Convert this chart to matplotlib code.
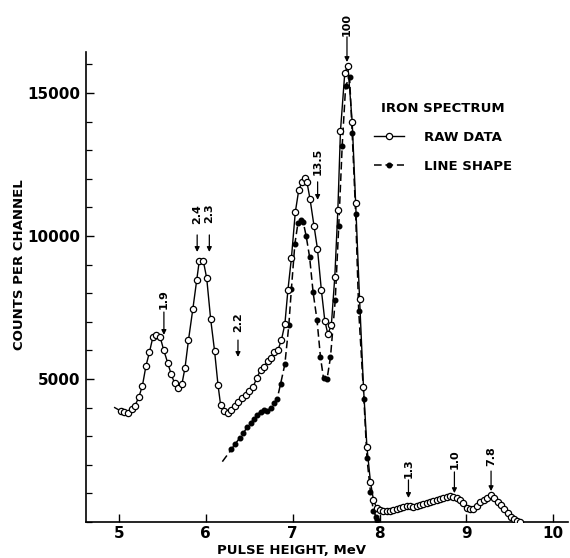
import matplotlib
matplotlib.use("Agg")
import matplotlib.pyplot as plt
from matplotlib.ticker import MultipleLocator

# ---------------- data ----------------
raw_x = [4.95, 5.02, 5.06, 5.105, 5.145, 5.185, 5.23, 5.27, 5.31, 5.35, 5.39, 5.43, 5.475,
         5.515, 5.56, 5.60, 5.64, 5.685, 5.725, 5.76, 5.80, 5.85, 5.895, 5.925, 5.97, 6.01,
         6.055, 6.10, 6.14, 6.17, 6.21, 6.25, 6.29, 6.33, 6.375, 6.415, 6.46, 6.50, 6.545,
         6.585, 6.63, 6.67, 6.71, 6.755, 6.79, 6.83, 6.87, 6.91, 6.945, 6.985, 7.03, 7.07,
         7.11, 7.14, 7.165, 7.20, 7.245, 7.285, 7.33, 7.37, 7.405, 7.445, 7.485, 7.52, 7.55,
         7.60, 7.635, 7.685, 7.725, 7.77, 7.815, 7.855, 7.895, 7.93, 7.965, 8.0, 8.045, 8.085,
         8.12, 8.16, 8.20, 8.24, 8.275, 8.315, 8.355, 8.39, 8.43, 8.47, 8.505, 8.545, 8.585,
         8.62, 8.66, 8.70, 8.735, 8.775, 8.81, 8.85, 8.89, 8.93, 8.965, 9.005, 9.04, 9.08,
         9.12, 9.16, 9.20, 9.24, 9.28, 9.32, 9.36, 9.40, 9.435, 9.475, 9.51, 9.55, 9.58, 9.615]
raw_y = [4000, 3880, 3830, 3800, 3940, 4070, 4380, 4770, 5450, 5930, 6460, 6520, 6450,
         6010, 5570, 5175, 4850, 4680, 4830, 5390, 6360, 7440, 8460, 9140, 9140, 8520,
         7100, 5990, 4790, 4090, 3890, 3800, 3920, 4060, 4200, 4320, 4440, 4590, 4730,
         5020, 5315, 5430, 5630, 5750, 5950, 6010, 6360, 6920, 8110, 9220, 10830, 11610,
         11900, 12020, 11870, 11280, 10360, 9550, 8110, 7030, 6570, 6880, 8580, 10910, 13670,
         15710, 15940, 13990, 11140, 7800, 4710, 2610, 1410, 770, 500, 420, 400, 385,
         396, 420, 443, 478, 536, 560, 560, 536, 560, 594, 618, 653, 711,
         746, 769, 793, 828, 863, 909, 886, 828, 769, 650, 480, 450, 470,
         570, 690, 780, 850, 944, 830, 711, 594, 443, 303, 186, 93, 35, 12]

line_x = [6.19, 6.295, 6.34, 6.39, 6.43, 6.475, 6.515, 6.55, 6.59, 6.63, 6.665, 6.705, 6.745,
          6.78, 6.82, 6.86, 6.91, 6.955, 6.985, 7.025, 7.06, 7.10, 7.12, 7.155, 7.195, 7.235,
          7.28, 7.32, 7.355, 7.395, 7.435, 7.49, 7.53, 7.57, 7.61, 7.655, 7.685, 7.725, 7.76,
          7.82, 7.855, 7.895, 7.93, 7.96, 7.975]
line_y = [2110, 2540, 2740, 2930, 3100, 3310, 3450, 3590, 3740, 3860, 3920, 3890, 3975,
          4150, 4290, 4820, 5520, 6870, 8140, 9720, 10440, 10540, 10500, 10000, 9255, 8030,
          7060, 5760, 5020, 4990, 5760, 7760, 10330, 13160, 15250, 15550, 13590, 10770, 7390,
          4290, 2230, 1060, 385, 186, 60]

# peak annotations: label, x, text centre y, arrow start y, arrow tip y
ann_labels = ["1.9", "2.4", "2.3", "2.2", "13.5", "100", "1.3", "1.0", "7.8"]
ann_x = [5.517, 5.90, 6.04, 6.37, 7.287, 7.625, 8.333, 8.862, 9.284]
ann_text_y = [7800, 10780, 10780, 7000, 12620, 17400, 1890, 2190, 2310]
ann_arrow_from = [7340, 10035, 10035, 6360, 11890, 16960, 1470, 1750, 1780]
ann_arrow_to = [6540, 9440, 9440, 5770, 11260, 16080, 840, 1010, 1080]

x_ticks = [5, 6, 7, 8, 9, 10]
y_ticks = [5000, 10000, 15000]

# ---------------- figure ----------------
fig = plt.figure(figsize=(5.70, 5.58), dpi=100)
ax = fig.add_axes([86 / 570, 36 / 558, 482 / 570, 470 / 558])

ax.plot(raw_x, raw_y, '-', color='black', lw=1.0, marker='o', markersize=4.5,
        markerfacecolor='white', markeredgecolor='black', markeredgewidth=0.9,
        markevery=list(range(1, len(raw_x))), label='RAW DATA', zorder=3)
ax.plot(line_x, line_y, '--', color='black', lw=1.1, dashes=(5, 2.5), marker='o',
        markersize=3.3, markerfacecolor='black', markeredgecolor='black',
        markevery=list(range(1, len(line_x))), label='LINE SHAPE', zorder=2)

ax.set_xlim(4.62, 10.17)
ax.set_ylim(0, 16430)

ax.spines['top'].set_visible(False)
ax.spines['right'].set_visible(False)
ax.spines['left'].set_linewidth(1.2)
ax.spines['bottom'].set_linewidth(1.2)

ax.set_xticks(x_ticks)
ax.set_xticklabels([str(t) for t in x_ticks])
ax.set_yticks(y_ticks)
ax.set_yticklabels([str(t) for t in y_ticks])
ax.yaxis.set_minor_locator(MultipleLocator(1000))
ax.tick_params(axis='both', which='major', direction='in', length=6, width=1.0,
               labelsize=11, pad=4)
ax.tick_params(axis='y', which='minor', direction='in', length=4, width=0.9)
ax.tick_params(axis='x', which='major', pad=3)
for lab in ax.get_xticklabels() + ax.get_yticklabels():
    lab.set_fontweight('bold')

ax.set_ylabel('COUNTS PER CHANNEL', fontsize=9.5, fontweight='bold')
ax.yaxis.set_label_coords(-0.124, 0.547)
ax.set_xlabel('PULSE HEIGHT, MeV', fontsize=9.5, fontweight='bold')
ax.xaxis.set_label_coords(0.427, -0.046)

for lab, x, ty, y0, y1 in zip(ann_labels, ann_x, ann_text_y, ann_arrow_from, ann_arrow_to):
    ax.text(x, ty, lab, rotation=90, ha='center', va='center', fontsize=8,
            fontweight='bold', clip_on=False)
    ax.annotate('', xy=(x, y1), xytext=(x, y0), annotation_clip=False,
                arrowprops=dict(arrowstyle='-|>', color='black', lw=0.9,
                                mutation_scale=7, shrinkA=0, shrinkB=0))

leg = ax.legend(loc='upper left', bbox_to_anchor=(374 / 570, 1 - 102 / 558),
                bbox_transform=fig.transFigure, frameon=False, fontsize=9.5,
                title='IRON SPECTRUM', title_fontsize=9.5, handlelength=2.3,
                handletextpad=1.5, labelspacing=1.2, borderpad=0, borderaxespad=0)
leg.get_title().set_fontweight('bold')
for t in leg.get_texts():
    t.set_fontweight('bold')

fig.savefig('out.png', dpi=100)
